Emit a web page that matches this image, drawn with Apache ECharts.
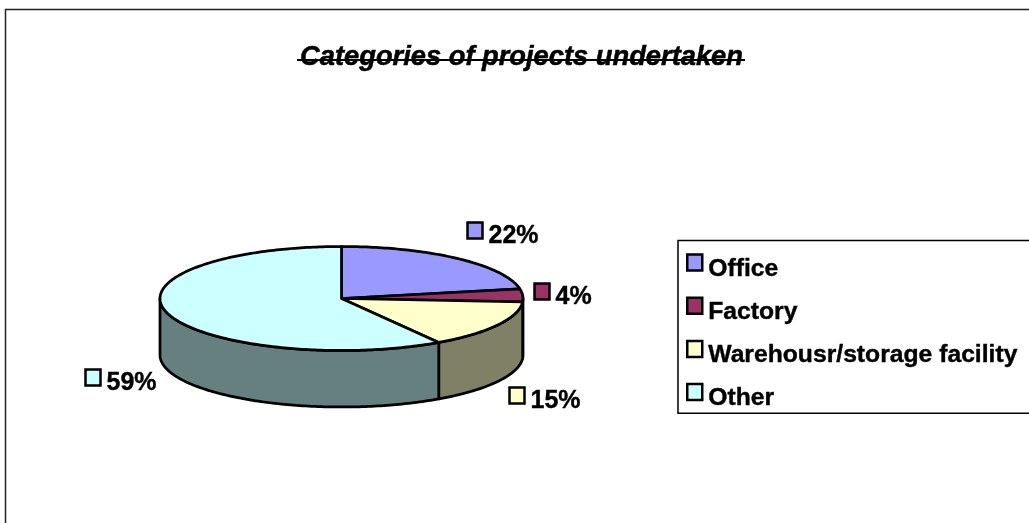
<!DOCTYPE html>
<html><head><meta charset="utf-8">
<style>html,body{margin:0;padding:0;background:#fff}#c{width:1029px;height:523px}</style>
<script src="https://cdn.jsdelivr.net/npm/echarts@6/dist/echarts.min.js"></script>
</head><body><div id="c"></div>
<script>
const categories = ['Office','Factory','Warehousr/storage facility','Other'];
const shares = [22,4,15,59];
const titleText = 'Categories of projects undertaken';

const topColors = ['#9999FF','#993366','#FFFFCC','#CCFFFF'];
const wallColors = ['#4C4C80','#4C1933','#808066','#668080'];
const FONT = '"Liberation Sans", Arial, sans-serif';
const CX=341.5, CY=298.5, RX=181.5, RY=52, DEPTH=56.5, START=-90;
const labelOffsets = [[10,-36],[11,-12],[11,62],[-82,56]];
const total = shares.reduce((a,b)=>a+b,0);

function pt(t,dy){const r=t*Math.PI/180;return [CX+RX*Math.cos(r),CY+RY*Math.sin(r)+(dy||0)];}
function arc(a,b,dy){const n=Math.max(2,Math.ceil(Math.abs(b-a)));const o=[];for(let i=0;i<=n;i++)o.push(pt(a+(b-a)*i/n,dy));return o;}
function renderSlice(idx){
  return function(params,api){
    const before=shares.slice(0,idx).reduce((a,b)=>a+b,0);
    const a=START+before/total*360, b=a+api.value(0)/total*360;
    const kids=[];
    const w1=Math.max(a,0), w2=Math.min(b,180);
    if(w2>w1){
      kids.push({type:'polygon',z2:1,shape:{points:arc(w1,w2,0).concat(arc(w2,w1,DEPTH))},
        style:{fill:wallColors[idx],stroke:'#000',lineWidth:2.75,lineJoin:'round'}});
    }
    kids.push({type:'polygon',z2:2,shape:{points:[[CX,CY]].concat(arc(a,b,0))},
      style:{fill:topColors[idx],stroke:'#000',lineWidth:2.75,lineJoin:'round'}});
    const m=pt((a+b)/2,0), o=labelOffsets[idx];
    const x=Math.round(m[0]+o[0])+0.5, y=Math.round(m[1]+o[1])+0.5;
    kids.push({type:'rect',z2:3,shape:{x:x,y:y,width:15,height:16},style:{fill:topColors[idx],stroke:'#000',lineWidth:2.5}});
    kids.push({type:'text',z2:3,style:{x:x+21,y:y+14,text:api.value(0)+'%',fill:'#000',stroke:'#000',lineWidth:0.4,
      font:'bold 25px '+FONT,textAlign:'left',textVerticalAlign:'middle'}});
    return {type:'group',children:kids};
  };
}
const chart=echarts.init(document.getElementById('c'),null,{renderer:'canvas'});
chart.setOption({
  animation:false,
  backgroundColor:'#fff',
  title:{text:titleText,left:516.5,top:39,textAlign:'center',
    textStyle:{fontFamily:FONT,fontSize:27.3,fontWeight:'bold',fontStyle:'italic',color:'#000',textBorderColor:'#000',textBorderWidth:0.5}},
  legend:{orient:'vertical',left:678,top:240.5,padding:[3,60,2,8],itemGap:5,itemWidth:15,itemHeight:16,
    selectedMode:false,data:categories,icon:'rect',borderColor:'#000',borderWidth:1.5,
    itemStyle:{borderColor:'#000',borderWidth:2.5},
    formatter:'{t|{name}}',
    textStyle:{fontFamily:FONT,fontSize:24.7,fontWeight:'bold',color:'#000',
      rich:{t:{fontFamily:FONT,fontSize:24.7,fontWeight:'bold',color:'#000',textBorderColor:'#000',textBorderWidth:0.4,padding:[13,0,0,1],lineHeight:25}}}},
  graphic:[
    {type:'rect',silent:true,z:-1,shape:{x:5.5,y:9.5,width:1100,height:600},style:{fill:'none',stroke:'#222',lineWidth:1.5}},
    {type:'line',silent:true,z:10,shape:{x1:297,y1:60,x2:745,y2:60},style:{stroke:'#000',lineWidth:2}}
  ],
  series:categories.map((name,i)=>({
    type:'custom',name:name,coordinateSystem:'none',silent:true,
    itemStyle:{color:topColors[i]},
    renderItem:renderSlice(i),
    data:[[shares[i]]]
  }))
});
</script></body></html>
